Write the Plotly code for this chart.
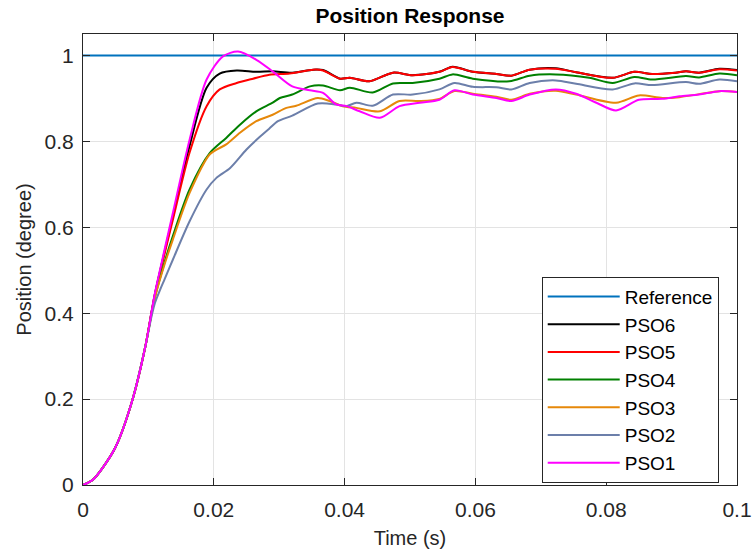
import plotly.graph_objects as go

# Shared start of every response (all controllers overlap here)
t_start = [0.0, 0.0015, 0.003, 0.005, 0.0075, 0.0095]
y_start = [0.0, 0.012, 0.040, 0.089, 0.195, 0.320]

# Reference step
t_ref = [0.0, 0.1]
y_ref = [1.0, 1.0]

# PSO6
t_pso6 = [0.0105, 0.011, 0.0125, 0.01375, 0.0163, 0.0189, 0.0209, 0.0235, 0.0265,
          0.029, 0.032, 0.0352, 0.0367, 0.0393, 0.0408, 0.0438, 0.0474, 0.0504,
          0.0545, 0.0565, 0.0596, 0.0632, 0.0655, 0.0683, 0.0723, 0.0754, 0.081,
          0.0843, 0.087, 0.0906, 0.0922, 0.0942, 0.0973, 0.1]
y_pso6 = [0.404, 0.445, 0.545, 0.625, 0.790, 0.925, 0.958, 0.965, 0.962,
          0.963, 0.960, 0.967, 0.966, 0.946, 0.948, 0.940, 0.960, 0.954,
          0.962, 0.974, 0.962, 0.957, 0.953, 0.967, 0.970, 0.961, 0.948,
          0.962, 0.957, 0.960, 0.963, 0.960, 0.969, 0.966]

# PSO5
t_pso5 = [0.0105, 0.011, 0.0125, 0.01375, 0.0163, 0.0189, 0.0209, 0.0235, 0.026,
          0.0285, 0.0316, 0.0352, 0.0367, 0.0393, 0.0408, 0.0438, 0.0474, 0.0504,
          0.0545, 0.0565, 0.0596, 0.0632, 0.0655, 0.0683, 0.0723, 0.0754, 0.081,
          0.0843, 0.087, 0.0906, 0.0922, 0.0942, 0.0973, 0.1]
y_pso5 = [0.404, 0.444, 0.540, 0.618, 0.774, 0.882, 0.921, 0.936, 0.946,
          0.955, 0.958, 0.967, 0.965, 0.946, 0.948, 0.940, 0.960, 0.954,
          0.962, 0.973, 0.962, 0.957, 0.953, 0.967, 0.969, 0.961, 0.948,
          0.962, 0.957, 0.960, 0.963, 0.960, 0.968, 0.965]

# PSO4
t_pso4 = [0.0105, 0.011, 0.0125, 0.01375, 0.0163, 0.0194, 0.0219, 0.024, 0.0265,
          0.029, 0.0301, 0.032, 0.0347, 0.0367, 0.0393, 0.0408, 0.0443, 0.0474,
          0.0504, 0.0545, 0.0565, 0.0596, 0.0652, 0.0683, 0.0723, 0.0774, 0.081,
          0.0843, 0.087, 0.0922, 0.0942, 0.0973, 0.1]
y_pso4 = [0.401, 0.438, 0.520, 0.580, 0.688, 0.773, 0.808, 0.839, 0.870,
          0.890, 0.901, 0.909, 0.928, 0.930, 0.919, 0.925, 0.914, 0.935,
          0.936, 0.946, 0.956, 0.946, 0.940, 0.953, 0.956, 0.948, 0.936,
          0.950, 0.944, 0.952, 0.949, 0.958, 0.954]

# PSO3
t_pso3 = [0.0105, 0.011, 0.0125, 0.01375, 0.0163, 0.0194, 0.0219, 0.024, 0.0265,
          0.029, 0.0311, 0.0326, 0.0359, 0.0377, 0.0397, 0.0418, 0.0454, 0.0484,
          0.0515, 0.0545, 0.0568, 0.0596, 0.0632, 0.0655, 0.0683, 0.0723, 0.0754,
          0.0815, 0.085, 0.0886, 0.0912, 0.0942, 0.0973, 0.1]
y_pso3 = [0.400, 0.436, 0.515, 0.572, 0.680, 0.770, 0.793, 0.820, 0.847,
          0.862, 0.878, 0.883, 0.901, 0.894, 0.882, 0.878, 0.870, 0.894,
          0.894, 0.899, 0.917, 0.911, 0.904, 0.897, 0.911, 0.918, 0.909,
          0.890, 0.907, 0.901, 0.903, 0.910, 0.917, 0.915]

# PSO2
t_pso2 = [0.0105, 0.011, 0.0118, 0.0125, 0.01375, 0.0163, 0.0189, 0.0204, 0.0225,
          0.025, 0.027, 0.0285, 0.0298, 0.032, 0.0359, 0.0387, 0.0403, 0.0418,
          0.0443, 0.0474, 0.0504, 0.0545, 0.0568, 0.0596, 0.0632, 0.0655, 0.0683,
          0.0723, 0.0754, 0.081, 0.0843, 0.087, 0.0922, 0.0942, 0.0973, 0.1]
y_pso2 = [0.394, 0.424, 0.455, 0.480, 0.525, 0.614, 0.688, 0.715, 0.738,
          0.781, 0.810, 0.830, 0.847, 0.860, 0.888, 0.886, 0.882, 0.890,
          0.883, 0.909, 0.909, 0.921, 0.936, 0.927, 0.926, 0.921, 0.936,
          0.942, 0.934, 0.921, 0.935, 0.931, 0.938, 0.934, 0.944, 0.940]

# PSO1
t_pso1 = [0.0105, 0.011, 0.0125, 0.01375, 0.0163, 0.0189, 0.0214, 0.0237, 0.0265,
          0.029, 0.032, 0.0347, 0.0367, 0.0387, 0.0403, 0.0423, 0.0454, 0.0484,
          0.0515, 0.0545, 0.0568, 0.0596, 0.0632, 0.0655, 0.0683, 0.0723, 0.0754,
          0.0785, 0.0815, 0.085, 0.0886, 0.0912, 0.0942, 0.0973, 0.1]
y_pso1 = [0.405, 0.447, 0.550, 0.634, 0.804, 0.944, 0.998, 1.009, 0.990,
          0.963, 0.928, 0.919, 0.913, 0.886, 0.882, 0.870, 0.855, 0.882,
          0.890, 0.897, 0.919, 0.909, 0.901, 0.894, 0.909, 0.921, 0.911,
          0.890, 0.872, 0.897, 0.899, 0.905, 0.909, 0.917, 0.915]

series = [
    ("PSO6", t_pso6, y_pso6, "#000000"),
    ("PSO5", t_pso5, y_pso5, "#FF0000"),
    ("PSO4", t_pso4, y_pso4, "#008000"),
    ("PSO3", t_pso3, y_pso3, "#E6880A"),
    ("PSO2", t_pso2, y_pso2, "#6C7FAA"),
    ("PSO1", t_pso1, y_pso1, "#FF00FF"),
]

FONT = "Liberation Sans, Arial, Helvetica, sans-serif"
AX = "#262626"

fig = go.Figure()
fig.add_trace(go.Scatter(x=t_ref, y=y_ref, mode="lines", name="Reference",
                         line=dict(color="#0072BD", width=2), legendgroup="ref"))
for name, t, y, c in series:
    fig.add_trace(go.Scatter(
        x=t_start + t, y=y_start + y, mode="lines", name=name,
        line=dict(color=c, width=2, shape="spline", smoothing=0.8),
        legendgroup=name,
    ))

axis_common = dict(
    showline=True, linecolor=AX, linewidth=1, mirror="ticks",
    ticks="inside", ticklen=7, tickcolor=AX, tickwidth=1,
    showgrid=True, gridcolor="#E3E3E3", gridwidth=1,
    zeroline=False, automargin=False,
    tickfont=dict(family=FONT, size=21, color=AX),
)

fig.update_layout(
    width=753, height=555,
    margin=dict(l=83, r=16, t=34, b=70),
    paper_bgcolor="white", plot_bgcolor="white",
    title=dict(text="<b>Position Response</b>", x=0.5, xanchor="center",
               xref="paper", y=1 - 16 / 555, yanchor="middle",
               font=dict(family=FONT, size=21, color="#000000")),
    xaxis=dict(range=[0, 0.1], tickvals=[0, 0.02, 0.04, 0.06, 0.08, 0.1],
               ticktext=["0", "0.02", "0.04", "0.06", "0.08", "0.1"],
               ticklabelstandoff=6,
               title=dict(text="Time (s)", standoff=10,
                          font=dict(family=FONT, size=20, color=AX)),
               **axis_common),
    yaxis=dict(range=[0, 1.05], tickvals=[0, 0.2, 0.4, 0.6, 0.8, 1],
               ticktext=["0", "0.2", "0.4", "0.6", "0.8", "1"],
               ticklabelstandoff=4,
               title=dict(text="Position (degree)", standoff=7,
                          font=dict(family=FONT, size=20, color=AX)),
               **axis_common),
    legend=dict(x=0.7014, y=0.462, xanchor="left", yanchor="top",
                bgcolor="white", bordercolor=AX, borderwidth=1,
                font=dict(family=FONT, size=19, color="#000000"),
                itemwidth=72, tracegroupgap=0, traceorder="normal"),
    showlegend=True,
)

fig.write_html("out.html")
